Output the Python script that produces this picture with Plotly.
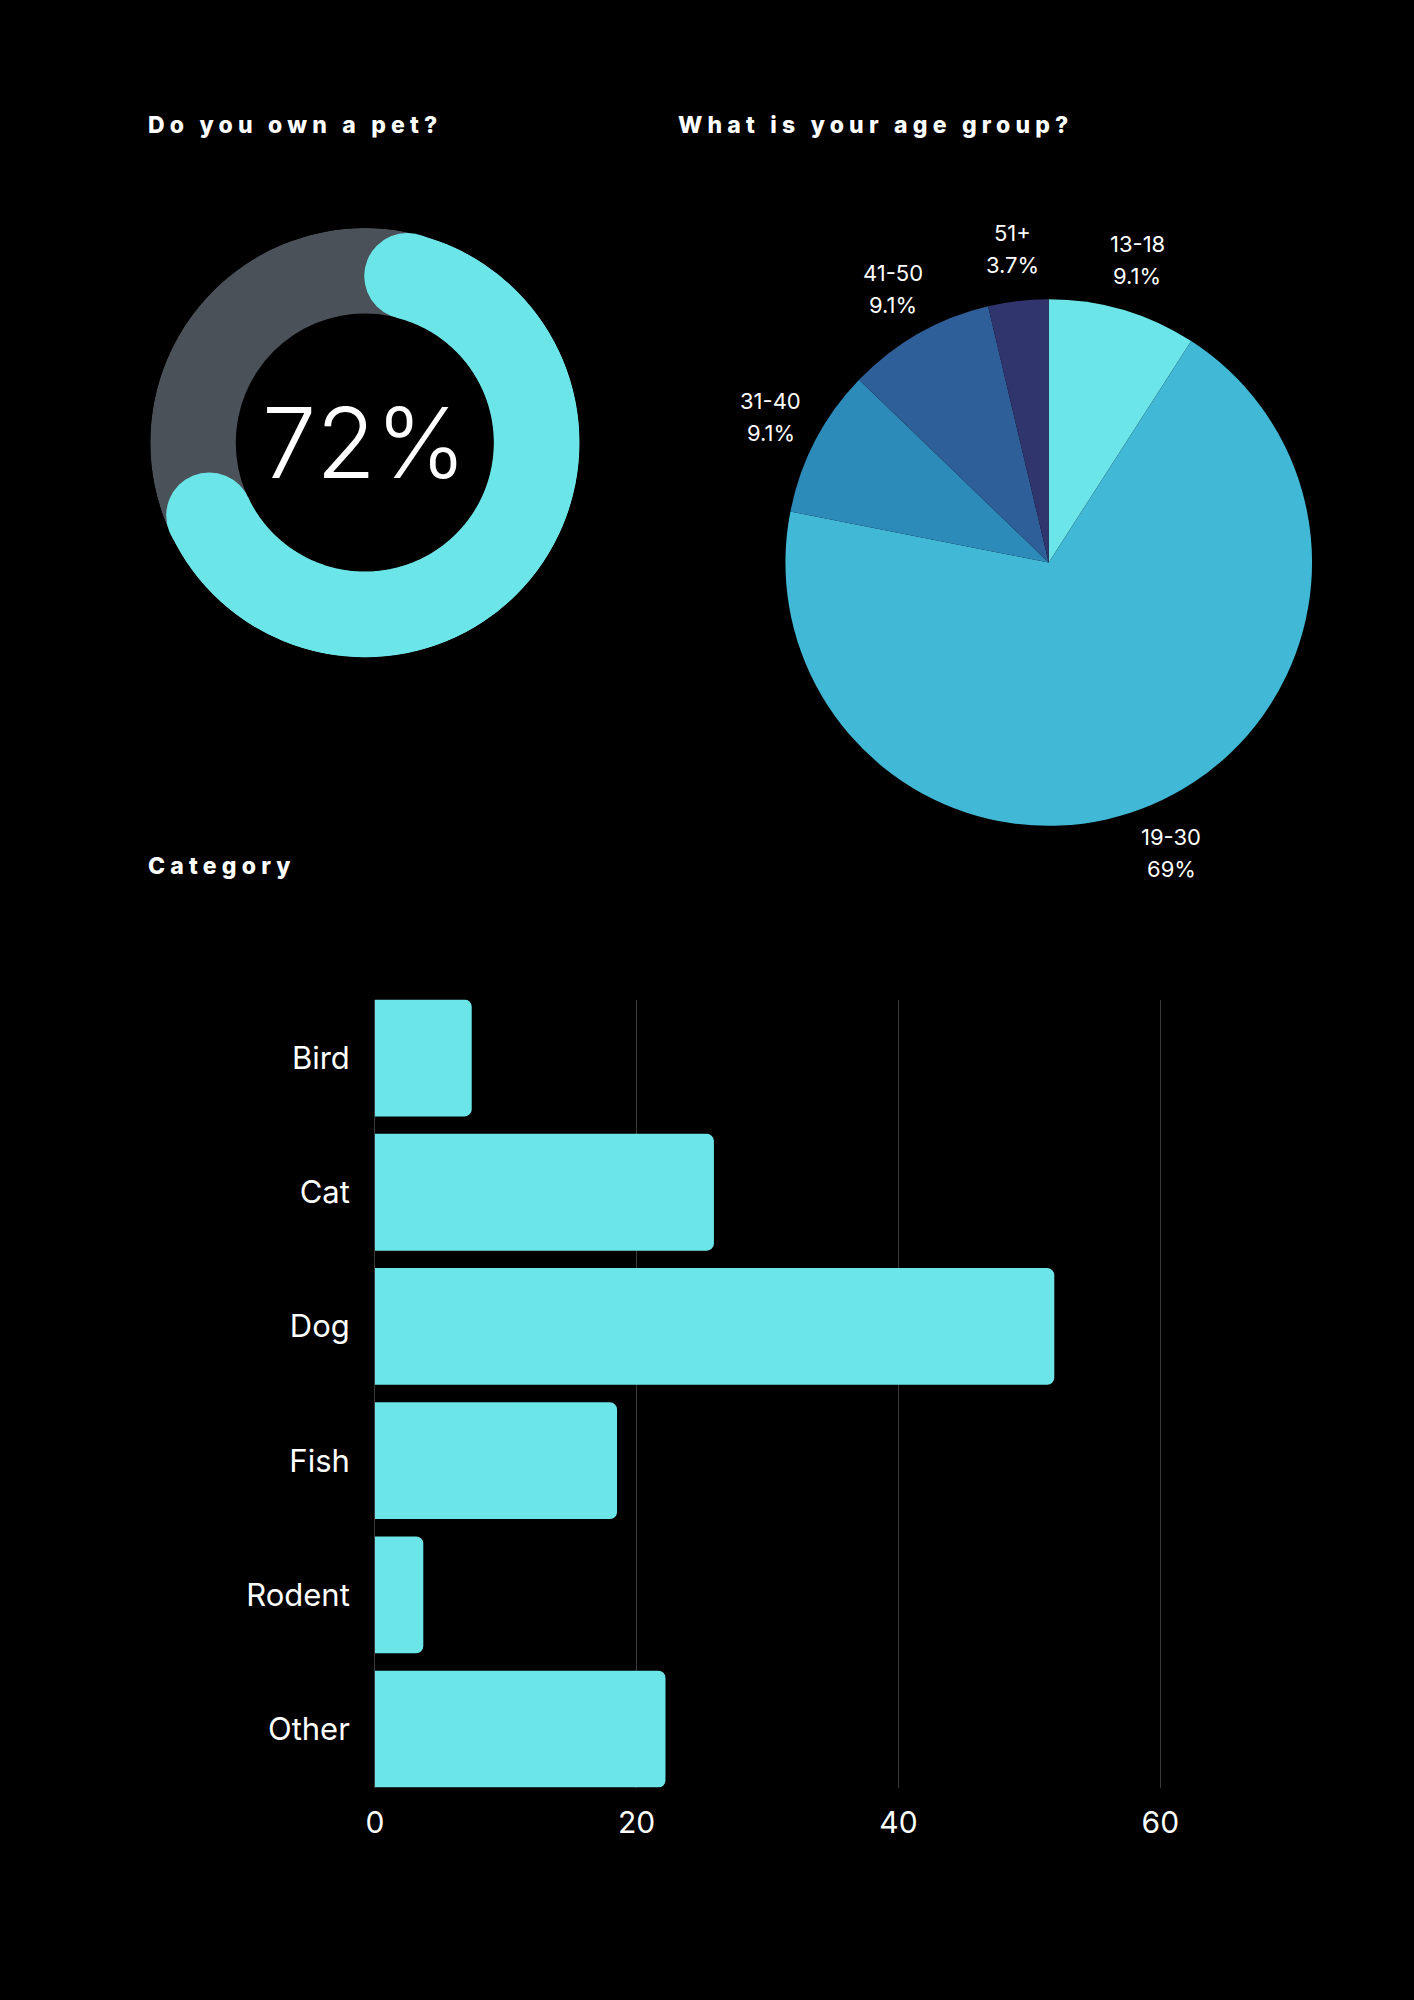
import math
import plotly.graph_objects as go

# ---------------- data ----------------
pet_owner_pct = 72

age_labels = ["13-18", "19-30", "31-40", "41-50", "51+"]
age_values = [9.1, 69, 9.1, 9.1, 3.7]
age_colors = ["#6ce5e8", "#41b8d5", "#2d8bba", "#2f5f98", "#31356e"]

pet_categories = ["Bird", "Cat", "Dog", "Fish", "Rodent", "Other"]
pet_counts = [7.4, 25.9, 51.9, 18.5, 3.7, 22.2]
x_ticks = [0, 20, 40, 60]

# ---------------- styles ----------------
W, H = 1414, 2000
BG = "#000000"
CYAN = "#6ce5e8"
RING_GRAY = "#4b5159"
FONT = "Inter, 'Open Sans', sans-serif"

fig = go.Figure()

# ---------- donut (polar) ----------
outer_r, inner_r = 216, 130
mid_r = (outer_r + inner_r) / 2
thick = outer_r - inner_r
cap_deg = math.degrees((thick / 2) / mid_r)
end_deg = pet_owner_pct / 100 * 360

fig.add_trace(go.Barpolar(
    r=[thick], base=[inner_r], theta=[180], width=[360],
    marker=dict(color=RING_GRAY, line=dict(width=0)),
    subplot="polar", showlegend=False, hoverinfo="skip",
))
n = 300
arc_theta = [cap_deg + (end_deg - 2 * cap_deg) * i / n for i in range(n + 1)]
fig.add_trace(go.Scatterpolar(
    r=[mid_r] * len(arc_theta), theta=arc_theta, mode="lines",
    line=dict(color=CYAN, width=thick),
    subplot="polar", showlegend=False, hoverinfo="skip",
))
fig.add_trace(go.Scatterpolar(
    r=[mid_r, mid_r], theta=[arc_theta[0], arc_theta[-1]], mode="markers",
    marker=dict(color=CYAN, size=thick, line=dict(width=0)),
    subplot="polar", showlegend=False, hoverinfo="skip",
))

cx, cy = 358.2, 442.7
fig.update_layout(polar=dict(
    domain=dict(x=[(cx - outer_r) / W, (cx + outer_r) / W],
                y=[1 - (cy + outer_r) / H, 1 - (cy - outer_r) / H]),
    bgcolor="rgba(0,0,0,0)",
    radialaxis=dict(visible=False, range=[0, outer_r]),
    angularaxis=dict(visible=False, rotation=90, direction="clockwise"),
))

# ---------- pie ----------
px_c, py_c, pr = 1046.4, 562.5, 265
fig.add_trace(go.Pie(
    labels=age_labels, values=age_values, sort=False, direction="clockwise",
    rotation=0, textinfo="none",
    marker=dict(colors=age_colors, line=dict(width=0)),
    domain=dict(x=[(px_c - pr) / W, (px_c + pr) / W],
                y=[1 - (py_c + pr) / H, 1 - (py_c - pr) / H]),
    showlegend=False, automargin=False,
))

# pie labels at a fixed radius along each slice's mid-angle
label_r = pr * 1.19
total = sum(age_values)
acc = 0.0
for lab, v in zip(age_labels, age_values):
    mid = (acc + v / 2) / total * 2 * math.pi
    acc += v
    lx = px_c + label_r * math.sin(mid)
    ly = py_c - label_r * math.cos(mid)
    pct = f"{v / total * 100:.2g}%"
    for txt, shift in ((lab, 16), (pct, -16)):
        fig.add_annotation(
            text=txt, x=lx / W, y=1 - ly / H, xref="paper", yref="paper",
            xanchor="center", yanchor="middle", yshift=shift, showarrow=False,
            font=dict(family=FONT, size=22, color="white"),
        )

# ---------- bar chart ----------
fig.add_trace(go.Bar(
    x=pet_counts, y=pet_categories, orientation="h",
    marker=dict(color=CYAN, line=dict(width=0)),
    showlegend=False, xaxis="x", yaxis="y",
))
x0_px = 368.2
unit = 263.5 / 20
x_max = 70
top_px, bot_px = 999.6, 1787.6
gap = 0.13
fig.update_layout(
    xaxis=dict(domain=[x0_px / W, (x0_px + x_max * unit) / W], range=[0, x_max],
               tickvals=x_ticks, showgrid=True, gridcolor="#3a3a3a", gridwidth=1,
               zeroline=True, zerolinecolor="#3a3a3a", zerolinewidth=1,
               showline=False, ticks="", ticklabelstandoff=14,
               tickfont=dict(family=FONT, size=30, color="white"), anchor="y"),
    yaxis=dict(domain=[1 - bot_px / H, 1 - top_px / H],
               range=[len(pet_categories) - 0.5 - gap / 2, -0.5 + gap / 2],
               showgrid=False, zeroline=False, showline=False, ticks="",
               ticklabelstandoff=24,
               tickfont=dict(family=FONT, size=31, color="white"), anchor="x"),
    bargap=gap, barcornerradius=7,
)

# ---------- titles & center text ----------
def title(text, x, y):
    fig.add_annotation(
        text=f'<span style="letter-spacing:5.2px">{text}</span>',
        x=x / W, y=1 - y / H, xref="paper", yref="paper",
        xanchor="left", yanchor="middle", showarrow=False,
        font=dict(family=FONT, size=23, color="white", weight=800),
    )

title("Do you own a pet?", 138, 125)
title("What is your age group?", 671, 125)
title("Category", 138, 866)

fig.add_annotation(
    text=f"{pet_owner_pct}%", x=cx / W, y=1 - cy / H, xref="paper", yref="paper",
    xanchor="center", yanchor="middle", showarrow=False,
    font=dict(family=FONT, size=97, color="white", weight=300),
)

fig.update_layout(
    width=W, height=H, paper_bgcolor=BG, plot_bgcolor=BG,
    margin=dict(l=0, r=0, t=0, b=0), showlegend=False,
)

fig.write_html(
    "out.html",
    config={"displayModeBar": False},
    post_script="document.body.style.margin='0';"
                "document.body.style.overflow='hidden';"
                "document.body.style.background='black';",
)
